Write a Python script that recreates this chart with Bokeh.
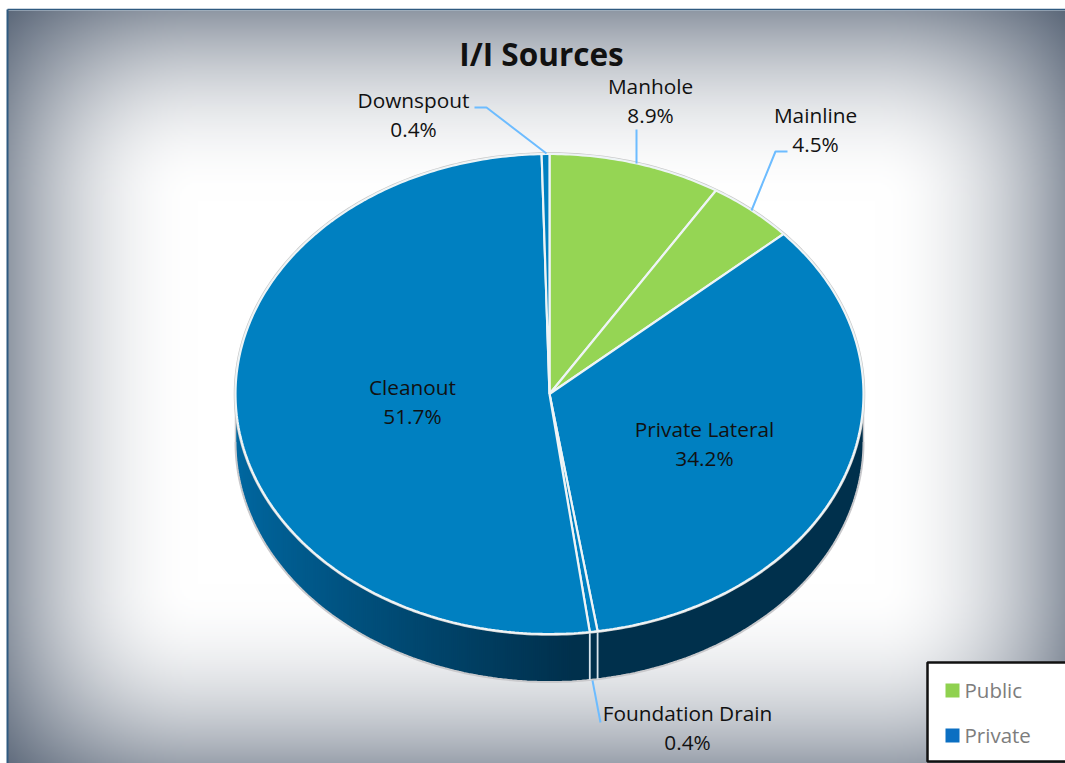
import numpy as np
from bokeh.plotting import figure
from bokeh.models import Range1d
from bokeh.core.properties import value
from bokeh.embed import file_html
from bokeh.resources import INLINE

# ---- data (clockwise from 12 o'clock) ----
categories = ["Manhole", "Mainline", "Private Lateral", "Foundation Drain", "Cleanout", "Downspout"]
shares = [8.9, 4.5, 34.2, 0.4, 51.7, 0.4]
groups = ["Public", "Public", "Private", "Private", "Private", "Private"]
legend_labels = ["Public", "Private"]
title_text = "I/I Sources"

# ---- layout ----
COL = {"Public": "#95d554", "Private": "#0080c1"}
LEG = {"Public": "#8fd14f", "Private": "#0b6fc2"}
CX, CY, RX, RY, DEPTH = 549.0, 393.5, 314.0, 240.0, 48.0
L, R, T, B = 0, 1065, 0, 763
FONT = "Open Sans"
label_pos = {
    "Manhole": (650, 85), "Mainline": (815, 114), "Private Lateral": (704, 428),
    "Foundation Drain": (687, 712), "Cleanout": (412, 386), "Downspout": (413, 99),
}
LINE_GAP = 29

p = figure(width=R - L, height=B - T, x_range=Range1d(L, R), y_range=Range1d(-B, -T),
           output_backend="svg", toolbar_location=None, min_border=0,
           x_axis_location=None, y_axis_location=None)
p.grid.visible = False
p.outline_line_color = None
p.background_fill_color = "white"
p.border_fill_color = "white"

# ---- vignette background ----
SCALE = 2
FL, FT = 7, 10
w, h = (R - FL) // SCALE + 1, (B - FT) // SCALE + 1
xs = FL + (np.arange(w) + .5) * SCALE
ys = FT + h * SCALE - (np.arange(h) + .5) * SCALE          # row 0 at the bottom
def edge(d, span=190.0):
    return np.clip(1 - d / span, 0, 1) ** 2
ax = np.maximum(edge(xs - 7), edge(1065 - xs))
ay = np.maximum(edge(ys - 10), edge(773 - ys))
a = 1 - (1 - 0.55 * ax[None, :]) * (1 - 0.55 * ay[:, None])
dark = np.array([0x33, 0x42, 0x58])
rgb = 255 * (1 - a[..., None]) + dark * a[..., None]
img = np.zeros((h, w), dtype=np.uint32)
view = img.view(np.uint8).reshape((h, w, 4))
view[..., :3] = rgb.astype(np.uint8)
view[..., 3] = 255
p.image_rgba(image=[img], x=FL, y=-(FT + h * SCALE), dw=w * SCALE, dh=h * SCALE)

# frame lines
p.line([FL, FL], [-B, -FT + 1], line_color="#2f5a80", line_width=2)
p.line([FL, R], [-FT + 1, -FT + 1], line_color="#2f5a80", line_width=1.5)

# ---- pie geometry from values ----
vals = np.array(shares, float)
cum = np.concatenate([[0], np.cumsum(vals) / vals.sum()]) * 2 * np.pi
def pt(t, dy=0.0):
    return CX + RX * np.sin(t), CY - RY * np.cos(t) + dy
def front(x):
    return CY + RY * np.sqrt(np.clip(1 - ((x - CX) / RX) ** 2, 0, 1))

# wall: vertical strips shaded left to right, each overlapped by the next
sx = np.arange(CX - RX, CX + RX, 2.0)
def shade(x):
    f = np.clip((x - (CX - RX)) / 340.0, 0, 1) ** 0.85
    c0, c1 = np.array([0x00, 0x68, 0xa1]), np.array([0x00, 0x30, 0x4c])
    return "#%02x%02x%02x" % tuple((c0 + (c1 - c0) * f).astype(int))
px, py = [], []
for x in sx:
    x2 = min(x + 5, CX + RX)
    mid = np.linspace(x, x2, 4)
    top = front(mid)
    px.append(np.r_[mid, mid[::-1]].tolist())
    py.append((-np.r_[top, (top + DEPTH)[::-1]]).tolist())
p.patches(px, py, fill_color=[shade(x) for x in sx], line_color=None)

# outer grey rim of the solid
tt = np.linspace(np.pi / 2, 3 * np.pi / 2, 200)
rx, ry = pt(tt, DEPTH)
p.line(rx, -ry, line_color="#c9c9cc", line_width=2)
for side in (CX - RX, CX + RX):
    p.line([side, side], [-CY, -(CY + DEPTH)], line_color="#c9c9cc", line_width=1.5)

# wall seams of slices that end on the front half
for t in cum[1:-1]:
    if np.cos(t) < 0:
        x0, y0 = pt(t)
        p.line([x0, x0], [-y0, -(y0 + DEPTH)], line_color="#d8e4ec", line_width=1.8)

# top-face rim and slices
tt = np.linspace(0, 2 * np.pi, 400)
rx, ry = pt(tt)
p.line(rx, -ry, line_color="#c8c8c8", line_width=3.5)
for i, cat in enumerate(categories):
    t = np.linspace(cum[i], cum[i + 1], max(3, int((cum[i + 1] - cum[i]) * 80)))
    x, y = pt(t)
    p.patch(np.r_[CX, x], -np.r_[CY, y], fill_color=COL[groups[i]],
            line_color="#eef4f6", line_width=2.2)

# ---- leader lines ----
leaders = [
    ([474, 486, 546], [107, 107, 153]),
    ([636, 636], [129, 163]),
    ([787, 775, 751], [151, 151, 210]),
    ([592, 600], [680, 722]),
]
for lx, ly in leaders:
    p.line(lx, [-v for v in ly], line_color="#6dbcff", line_width=2)

# ---- texts ----
for cat, v in zip(categories, shares):
    x, y = label_pos[cat]
    for txt, yy in ((cat, y), (f"{v}%", y + LINE_GAP)):
        p.text([x], [-yy], text=[txt], text_font=value(FONT), text_font_size="20.8px",
               text_color="#111111", text_align="center", text_baseline="middle")
p.text([541], [-53], text=[title_text], text_font=value(FONT), text_font_size="31.5px",
       text_font_style="bold", text_color="#111111", text_align="center", text_baseline="middle")

# ---- legend box ----
p.quad(left=[927], right=[R + 5], top=[-662], bottom=[-761], fill_color="white",
       line_color="#111111", line_width=2.5)
for name, yy in zip(legend_labels, (690, 735)):
    p.quad(left=[945], right=[959], top=[-(yy - 7)], bottom=[-(yy + 7)],
           fill_color=LEG[name], line_color=None)
    p.text([964], [-(yy - 1)], text=[name], text_font=value(FONT), text_font_size="20.5px",
           text_color="#7d7d7d", text_align="left", text_baseline="middle")

open("out.html", "w").write(file_html(p, INLINE))
